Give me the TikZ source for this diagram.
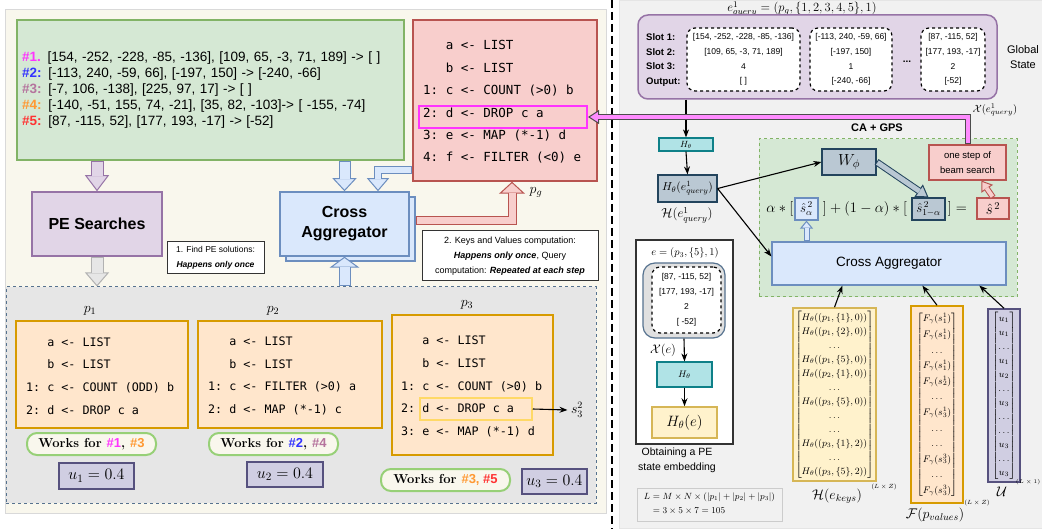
\RequirePackage{fix-cm}
\documentclass[tikz,border=0pt]{standalone}
\usepackage{amsmath}
\usepackage{fontspec}
\setmonofont{DejaVu Sans Mono}
\newfontfamily\arial{Liberation Sans}
\usetikzlibrary{arrows, arrows.meta, calc, positioning}

\definecolor{grnfill}{HTML}{D5E8D4}
\definecolor{grnline}{HTML}{82B366}
\definecolor{pnkfill}{HTML}{F8CECC}
\definecolor{pnkline}{HTML}{B85450}
\definecolor{purfill}{HTML}{E1D5E7}
\definecolor{purline}{HTML}{9673A6}
\definecolor{blufill}{HTML}{DAE8FC}
\definecolor{bluline}{HTML}{6C8EBF}
\definecolor{orafill}{HTML}{FFE6CC}
\definecolor{oraline}{HTML}{D79B00}
\definecolor{yelfill}{HTML}{FFF2CC}
\definecolor{yelline}{HTML}{D6B656}
\definecolor{lavfill}{HTML}{D0CEE2}
\definecolor{lavline}{HTML}{56517E}
\definecolor{tealfill}{HTML}{B0E3E6}
\definecolor{tealline}{HTML}{0E8088}
\definecolor{slatefill}{HTML}{BAC8D3}
\definecolor{slateline}{HTML}{23445D}
\definecolor{leftbg}{HTML}{F9F7ED}
\definecolor{rightbg}{HTML}{F1F1F1}
\definecolor{candfill}{HTML}{E6E6E6}
\definecolor{candline}{HTML}{56728F}
\definecolor{pillline}{HTML}{97D077}
\definecolor{hlmag}{HTML}{FF33FF}
\definecolor{hlgold}{HTML}{FFD966}
\definecolor{bigpink}{HTML}{FF8CFF}
\definecolor{cA}{HTML}{FF33FF}
\definecolor{cB}{HTML}{3333FF}
\definecolor{cC}{HTML}{B5739D}
\definecolor{cD}{HTML}{FF9933}
\definecolor{cE}{HTML}{FF3333}

\newcommand{\fsz}[2]{\fontsize{#1}{#2}\selectfont}
% hollow arrow: line colour, fill colour, outer width, inner width, head width, head length, inner shorten, path
\newcommand{\fatarrow}[8]{%
  \draw[line width=#3, draw=#1, -{Triangle[length=#6, width=#5, line width=1pt, fill=#2, color=#1]}] #8;
  \draw[line width=#4, draw=#2, shorten >=#7, shorten <=1pt] #8;
}

\tikzstyle{box} = [rectangle, draw, line width=1.5pt, inner sep=0pt]
\tikzstyle{greenbox} = [box, draw=grnline, fill=grnfill]
\tikzstyle{pinkbox} = [box, draw=pnkline, fill=pnkfill]
\tikzstyle{purplebox} = [box, draw=purline, fill=purfill]
\tikzstyle{bluebox} = [box, draw=bluline, fill=blufill]
\tikzstyle{progbox} = [box, draw=oraline, fill=orafill, line width=2pt]
\tikzstyle{keybox} = [box, draw=yelline, fill=yelfill]
\tikzstyle{ubox} = [box, draw=lavline, fill=lavfill]
\tikzstyle{tealbox} = [box, draw=tealline, fill=tealfill, line width=1.2pt]
\tikzstyle{slatebox} = [box, draw=slateline, fill=slatefill, line width=1.2pt]
\tikzstyle{note} = [box, draw=black!80, fill=white, line width=1pt, align=center]
\tikzstyle{pill} = [box, draw=pillline, fill=leftbg, rounded corners=10pt, line width=2pt]
\tikzstyle{codetext} = [anchor=west, align=left, inner sep=0pt]
\tikzstyle{slotbox} = [box, draw=black, fill=white, dashed, rounded corners=8pt, line width=1.2pt, align=center, font=\arial\fsz{8.5}{14.7}]
\tikzstyle{arrow} = [line width=1.1pt, ->, >={Stealth[length=8pt, width=6pt]}]

\begin{document}
\begin{tikzpicture}[x=1pt, y=-1pt]
\useasboundingbox (0,0) rectangle (1042,529);

% panels
\draw[fill=leftbg, draw=black!15] (5,9) rectangle (606,513);
\draw[fill=rightbg, draw=black!10] (619,0) rectangle (1042,528);
\draw[line width=2.5pt, dash pattern=on 8pt off 4pt] (612,0) -- (612,529);

% ---------- left: query and global program ----------
\node at (210.5,90) (io) [greenbox, minimum width=387pt, minimum height=140pt, text width=377pt, inner sep=5pt, align=left, font=\arial\fsz{13.5}{16}]
{{\color{cA}\bfseries\#1.} [154, -252, -228, -85, -136], [109, 65, -3, 71, 189] -> [ ]\\
{\color{cB}\bfseries\#2:} [-113, 240, -59, 66], [-197, 150] -> [-240, -66]\\
{\color{cC}\bfseries\#3:} [-7, 106, -138], [225, 97, 17] -> [ ]\\
{\color{cD}\bfseries\#4:} [-140, -51, 155, 74, -21], [35, 82, -103]-> [ -155, -74]\\
{\color{cE}\bfseries\#5:} [87, -115, 52], [177, 193, -17] -> [-52]};

\node at (505,100.5) (prog) [pinkbox, minimum width=184pt, minimum height=161pt] {};
\node at (423,102) (progcode) [codetext, font=\ttfamily\fsz{12.5}{22.4}]
{\phantom{1: }a <- LIST\\\phantom{1: }b <- LIST\\1: c <- COUNT (>0) b\\2: d <- DROP c a\\3: e <- MAP (*-1) d\\4: f <- FILTER (<0) e};
\node at (503,117) (hl) [box, draw=hlmag, line width=2pt, minimum width=168pt, minimum height=22pt] {};

\node at (97,224) (pe) [purplebox, minimum width=130pt, minimum height=64pt, font=\arial\bfseries\fsz{16}{20}] {PE Searches};
\node at (350.5,229) (caback) [bluebox, minimum width=129pt, minimum height=64pt] {};
\node at (344.5,224) (ca) [bluebox, minimum width=129pt, minimum height=64pt, align=center, font=\arial\bfseries\fsz{16}{20}] {Cross\\Aggregator};

\node at (215.5,258) (find) [note, minimum width=97pt, minimum height=32pt, font=\arial\fsz{8.5}{15}] {1. Find PE solutions:\\\textbf{\textit{Happens only once}}};
\node at (510,256) (kv) [note, minimum width=176pt, minimum height=50pt, font=\arial\fsz{9}{15}] {2. Keys and Values computation:\\\textbf{\textit{Happens only once}}, Query\\computation: \textbf{\textit{Repeated at each step}}};

% ---------- left: candidate programs ----------
\node at (301,395) (cands) [box, draw=candline, fill=candfill, dashed, line width=1pt, minimum width=590pt, minimum height=216pt] {};

\node at (90,311) (lp1) [font=\fsz{14}{16}] {$p_1$};
\node at (273,311) (lp2) [font=\fsz{14}{16}] {$p_2$};
\node at (467,305) (lp3) [font=\fsz{14}{16}] {$p_3$};

\node at (102,374.5) (p1box) [progbox, minimum width=172pt, minimum height=107pt] {};
\node at (26,376) (p1code) [codetext, font=\ttfamily\fsz{11.7}{22.7}]
{\phantom{1: }a <- LIST\\\phantom{1: }b <- LIST\\1: c <- COUNT (ODD) b\\2: d <- DROP c a};
\node at (290,374.5) (p2box) [progbox, minimum width=184pt, minimum height=107pt] {};
\node at (208,376) (p2code) [codetext, font=\ttfamily\fsz{11.7}{22.7}]
{\phantom{1: }a <- LIST\\\phantom{1: }b <- LIST\\1: c <- FILTER (>0) a\\2: d <- MAP (*-1) c};
\node at (472.5,385) (p3box) [progbox, minimum width=161pt, minimum height=140pt] {};
\node at (401,386.5) (p3code) [codetext, font=\ttfamily\fsz{11.7}{22.7}]
{\phantom{1: }a <- LIST\\\phantom{1: }b <- LIST\\1: c <- COUNT (>0) b\\2: d <- DROP c a\\3: e <- MAP (*-1) d};
\node at (476,409) (hl3) [box, draw=hlgold, line width=1.5pt, minimum width=112pt, minimum height=22pt] {};
\node at (577,410) (s32) [font=\fsz{14}{16}] {$s_3^2$};
\draw[arrow] (hl3.east) -- (s32.west);

\node at (91.5,444) (w1) [pill, minimum width=129pt, minimum height=22pt, font=\fsz{13}{15}] {\textbf{Works for {\arial\color{cA}\#1}, {\arial\color{cD}\#3}}};
\node at (273.5,444) (w2) [pill, minimum width=129pt, minimum height=22pt, font=\fsz{13}{15}] {\textbf{Works for {\arial\color{cB}\#2}, {\arial\color{cC}\#4}}};
\node at (445.5,480) (w3) [pill, minimum width=129pt, minimum height=22pt, font=\fsz{13}{15}] {\textbf{Works for {\arial\color{cD}\#3, }{\arial\color{cE}\#5}}};

\node at (96.5,476) (u1) [ubox, minimum width=75pt, minimum height=26pt, font=\fsz{16}{18}] {$u_1 = 0.4$};
\node at (285,474.5) (u2) [ubox, minimum width=76pt, minimum height=25pt, font=\fsz{16}{18}] {$u_2 = 0.4$};
\node at (554.5,481.5) (u3) [ubox, minimum width=65pt, minimum height=25pt, font=\fsz{16}{18}] {$u_3 = 0.4$};

% ---------- left: hollow arrows ----------
\coordinate (j2) at (378,170);
\coordinate (j3) at (512,221);
\fatarrow{purline}{purfill}{13pt}{11pt}{24pt}{16pt}{15pt}{(io.south -| pe.north) -- (pe.north)}
\fatarrow{black!30}{candfill}{13pt}{11pt}{24pt}{14pt}{13pt}{(pe.south) -- (pe.south |- cands.north)}
\fatarrow{bluline}{blufill}{12pt}{10pt}{24pt}{13pt}{12pt}{(io.south -| ca.north) -- (ca.north)}
\fatarrow{bluline}{blufill}{8pt}{6pt}{22pt}{13pt}{12pt}{(prog.west |- j2) -- (j2) -- (j2 |- ca.north)}
\fatarrow{bluline}{blufill}{12pt}{10pt}{30pt}{11pt}{10pt}{(cands.north -| ca.south) -- (ca.south)}
\fatarrow{pnkline}{pnkfill}{9pt}{7pt}{26pt}{12pt}{11pt}{(caback.east |- j3) -- (j3) -- (j3 |- prog.south)}
\node at (536,192) (pglab) [font=\fsz{14}{16}] {$p_g$};

% ---------- right: global state ----------
\node at (802,9) (eq) [font=\fsz{12.5}{14}] {$e^1_{query} = (p_g, \{1, 2, 3, 4, 5\}, 1)$};
\node at (817.5,57) (gstate) [purplebox, rounded corners=10pt, minimum width=359pt, minimum height=84pt] {};
\node at (646,60) (slotlab) [codetext, font=\arial\bfseries\fsz{9.5}{14.7}] {Slot 1:\\Slot 2:\\Slot 3:\\Output:};
\node at (743.5,59.5) (slot1) [slotbox, minimum width=113pt, minimum height=63pt] {[154, -252, -228, -85, -136]\\{}[109, 65, -3, 71, 189]\\4\\{}[ ]};
\node at (851,59.5) (slot2) [slotbox, minimum width=82pt, minimum height=63pt] {[-113, 240, -59, 66]\\{}[-197, 150]\\1\\{}[-240, -66]};
\node at (953,59.5) (slot3) [slotbox, minimum width=64pt, minimum height=63pt] {[87, -115, 52]\\{}[177, 193, -17]\\2\\{}[-52]};
\node at (907,62) (sdots) [font=\arial\bfseries\fsz{10}{12}] {...};
\node at (1023,57) (gslab) [align=center, font=\arial\fsz{11}{15}] {Global\\State};
\node at (995,110) (xq) [font=\fsz{10.5}{12}] {$\mathcal{X}(e^1_{query})$};

\node at (686,144.5) (hth) [tealbox, minimum width=54pt, minimum height=13pt, font=\fsz{9}{10}] {$H_\theta$};
\node at (687.5,188.5) (heq) [slatebox, minimum width=59pt, minimum height=27pt, font=\fsz{11.5}{13}] {$H_\theta(e^1_{query})$};
\node at (687,215) (hlab) [font=\fsz{13}{15}] {$\mathcal{H}(e^1_{query})$};

% ---------- right: CA + GPS ----------
\node at (877,128) (gpslab) [font=\arial\bfseries\fsz{11}{13}] {CA + GPS};
\node at (888,218) (gps) [box, draw=grnline, fill=grnfill, dashed, line width=1pt, minimum width=258pt, minimum height=158pt] {};
\node at (849,162) (wphi) [slatebox, minimum width=54pt, minimum height=26pt, font=\fsz{16}{18}] {$W_\phi$};
\node at (967.5,162.5) (beam) [pinkbox, line width=1.2pt, minimum width=77pt, minimum height=35pt, align=center, font=\arial\fsz{9.5}{15}] {one step of\\beam search};
\node at (806.5,209) (salpha) [bluebox, line width=1.2pt, minimum width=23pt, minimum height=22pt, font=\fsz{13}{15}] {$\hat{s}^{\,2}_{\alpha}$};
\node at (928.5,209) (sone) [slatebox, minimum width=33pt, minimum height=22pt, font=\fsz{13}{15}] {$\hat{s}^{\,2}_{1-\alpha}$};
\node at (993,208.5) (shat) [pinkbox, line width=1.2pt, minimum width=32pt, minimum height=21pt, font=\fsz{15}{17}] {$\hat{s}^{\,2}$};
\node [anchor=east, font=\fsz{14.5}{16}, inner sep=1pt] at (salpha.west) (fa) {$\alpha \ast [$};
\node [font=\fsz{14.5}{16}, inner sep=0pt] at ($(salpha.east)!0.5!(sone.west)$) (fb) {$] + (1-\alpha) \ast [$};
\node [anchor=west, font=\fsz{14.5}{16}, inner sep=2pt] at (sone.east) (fc) {$] =$};
\node at (889,263.5) (ca2) [bluebox, line width=1.2pt, minimum width=234pt, minimum height=43pt, font=\arial\fsz{13.5}{16}] {Cross Aggregator};

\draw[arrow] (gstate.south -| hth.north) -- (hth.north);
\draw[arrow] (hth.south) -- (heq.north);
\draw[arrow] (heq.east) -- (wphi.west);
\coordinate (cain) at ($(ca2.west)+(0,-7)$);
\draw[arrow] (heq.east) -- (cain);
\fatarrow{slateline}{slatefill}{7pt}{5pt}{15pt}{12pt}{11pt}{(wphi.east) -- (sone.north)}
\fatarrow{pnkline}{pnkfill}{6pt}{4pt}{14pt}{10pt}{9pt}{(shat.north) -- ($(beam.south)+(14,0)$)}
\fatarrow{bluline}{blufill}{6pt}{4pt}{13pt}{8pt}{7pt}{(ca2.north -| salpha.south) -- (salpha.south)}
\fatarrow{black!70}{bigpink}{6pt}{4pt}{14pt}{11pt}{10pt}{(beam.north) -- (beam.north |- hl.east) -- (hl.east)}

% ---------- right: keys, values, utilities ----------
\node at (834.5,394.5) (hmat) [keybox, minimum width=83pt, minimum height=173pt, font=\fsz{9.5}{14}]
{$\begin{bmatrix} H_\theta((p_1,\{1\},0)) \\ H_\theta((p_1,\{2\},0)) \\ \ldots \\ H_\theta((p_1,\{5\},0)) \\ H_\theta((p_2,\{1\},0)) \\ \ldots \\ H_\theta((p_3,\{5\},0)) \\ \ldots \\ \ldots \\ H_\theta((p_3,\{1\},2)) \\ \ldots \\ H_\theta((p_3,\{5\},2)) \end{bmatrix}$};
\node at (937,404.5) (fmat) [progbox, line width=1.5pt, minimum width=52pt, minimum height=197pt, font=\fsz{9.5}{15.6}]
{$\begin{bmatrix} F_\gamma(s^1_1) \\ F_\gamma(s^1_1) \\ \ldots \\ F_\gamma(s^1_1) \\ F_\gamma(s^1_2) \\ \ldots \\ F_\gamma(s^1_3) \\ \ldots \\ \ldots \\ F_\gamma(s^3_3) \\ \ldots \\ F_\gamma(s^3_3) \end{bmatrix}$};
\node at (1004,395.5) (umat) [ubox, minimum width=32pt, minimum height=173pt, font=\fsz{9.5}{14}]
{$\begin{bmatrix} u_1 \\ u_1 \\ \ldots \\ u_1 \\ u_2 \\ \ldots \\ u_3 \\ \ldots \\ \ldots \\ u_3 \\ \ldots \\ u_3 \end{bmatrix}$};
\node at (837,496) (hklab) [font=\fsz{14}{16}] {$\mathcal{H}(e_{keys})$};
\node at (884,487) (hkdim) [font=\fsz{6}{7}] {$(L \times Z)$};
\node at (935,515) (fvlab) [font=\fsz{14}{16}] {$\mathcal{F}(p_{values})$};
\node at (977,503) (fvdim) [font=\fsz{6}{7}] {$(L \times Z)$};
\node at (1002,492) (ulab) [font=\fsz{14}{16}] {$\mathcal{U}$};
\node at (1041,482) (udim) [anchor=east, inner sep=0.5pt, font=\fsz{5.5}{6}] {$(L \times 1)$};
\draw[arrow] (hmat.north) -- ($(ca2.south west)+(71,0)$);
\draw[arrow] (fmat.north) -- ($(ca2.south west)+(151,0)$);
\draw[arrow] (umat.north) -- ($(ca2.south west)+(208,0)$);

% ---------- right: PE state embedding ----------
\node at (684.5,342) (ebox) [box, draw=black!80, fill=white, line width=1.2pt, minimum width=97pt, minimum height=204pt] {};
\node at (685,253) (elab) [font=\fsz{10.5}{12}] {$e = (p_3, \{5\}, 1)$};
\node at (684,300.5) (gbox) [box, draw=candline, fill=black!12, rounded corners=12pt, line width=1.2pt, minimum width=82pt, minimum height=75pt] {};
\node at (686.5,300) (ebin) [slotbox, minimum width=69pt, minimum height=66pt, font=\arial\fsz{8.5}{15}] {[87, -115, 52]\\{}[177, 193, -17]\\2\\{}[ -52]};
\node at (663,350) (xe) [font=\fsz{12.5}{14}] {$\mathcal{X}(e)$};
\node at (684.5,374.5) (hth2) [tealbox, minimum width=55pt, minimum height=25pt, font=\fsz{9.5}{11}] {$H_\theta$};
\node at (684.5,422.5) (he) [keybox, minimum width=65pt, minimum height=31pt, font=\fsz{15}{17}] {$H_\theta(e)$};
\draw[arrow] (gbox.south) -- (hth2.north);
\draw[arrow] (hth2.south) -- (he.north);
\node at (677,460) (cap) [align=center, font=\arial\fsz{10.5}{15}] {Obtaining a PE\\state embedding};
\node at (709.5,504.5) (calc) [box, draw=black!20, fill=rightbg, line width=1pt, minimum width=145pt, minimum height=33pt, font=\fsz{9}{11}]
{$\begin{aligned} L &= M \times N \times (|p_1| + |p_2| + |p_3|) \\ &= 3 \times 5 \times 7 = 105 \end{aligned}$};

\end{tikzpicture}
\end{document}
